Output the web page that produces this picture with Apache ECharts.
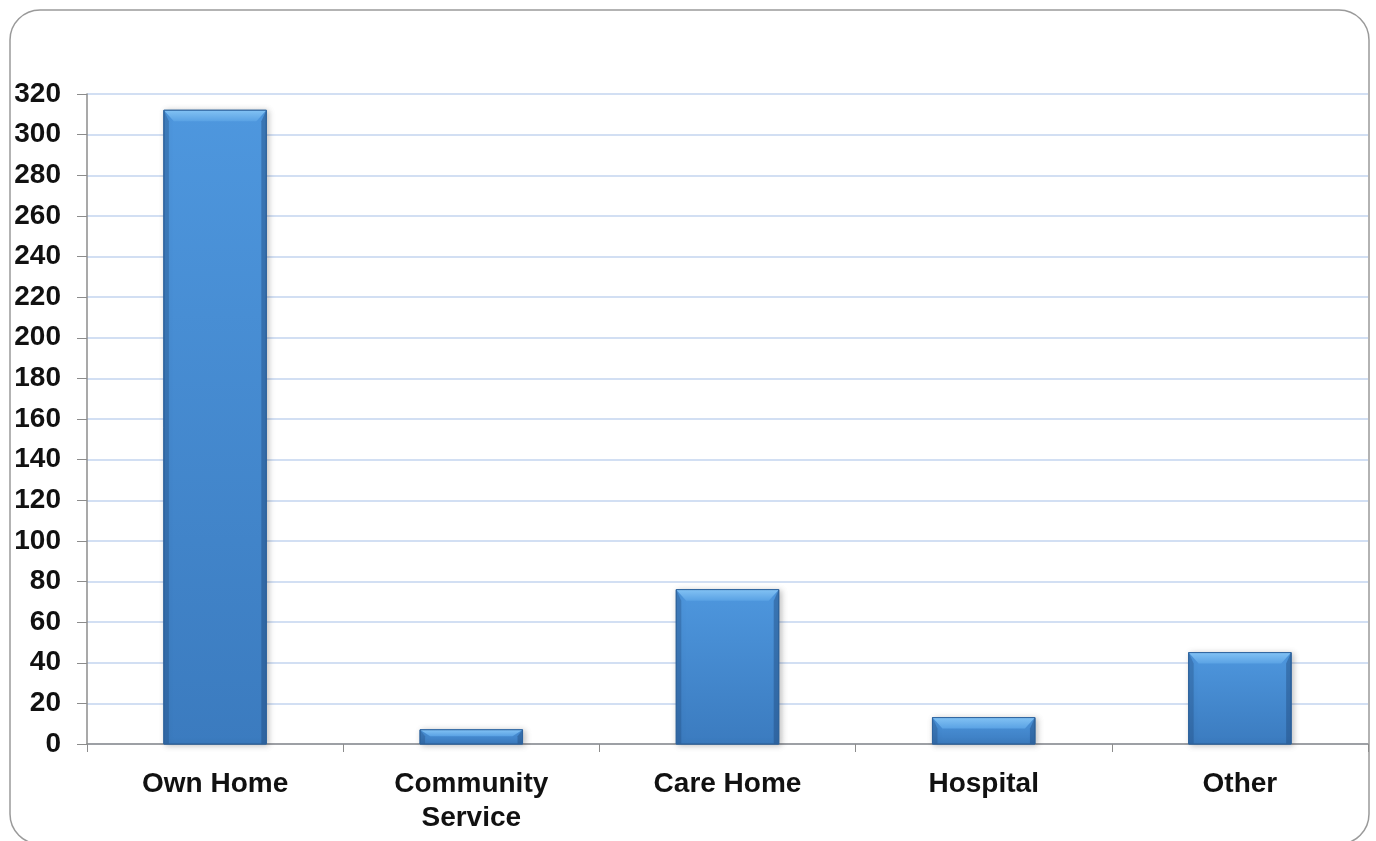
<!DOCTYPE html>
<html>
<head>
<meta charset="utf-8">
<script src="https://cdn.jsdelivr.net/npm/echarts@6/dist/echarts.min.js"></script>
<style>
  html, body { margin: 0; padding: 0; background: #fff; }
  #chart { width: 1376px; height: 841px; }
</style>
</head>
<body>
<div id="chart"></div>
<script>
// Place of care counts
const categories = ['Own Home', 'Community\nService', 'Care Home', 'Hospital', 'Other'];
const counts = [312, 7, 76, 13, 45];
const yTicks = { min: 0, max: 320, step: 20 };

const chart = echarts.init(document.getElementById('chart'));

// Bevelled bar: body gradient, lighter top facet, darker side facets
function renderBevelBar(params, api) {
  const idx = api.value(0);
  const val = api.value(1);
  const top = api.coord([idx, val]);
  const base = api.coord([idx, 0]);
  const bandW = api.size([1, 0])[0];
  const w = bandW * 0.4;
  const x0 = top[0] - w / 2, x1 = top[0] + w / 2;
  const y0 = top[1], y1 = base[1];
  const h = y1 - y0;
  const bt = Math.min(11, h * 0.45);
  const bs = Math.min(5, w * 0.1);
  return {
    type: 'group',
    children: [
      {
        type: 'rect',
        shape: { x: x0, y: y0, width: w, height: h },
        style: {
          fill: new echarts.graphic.LinearGradient(0, 0, 0, 1, [
            { offset: 0, color: '#4e97de' },
            { offset: 1, color: '#3b7bbf' }
          ]),
          stroke: '#2f649e',
          lineWidth: 1,
          shadowBlur: 6,
          shadowColor: 'rgba(0,0,0,0.25)',
          shadowOffsetX: 2,
          shadowOffsetY: 1
        }
      },
      {
        type: 'polygon',
        shape: { points: [[x0, y0], [x1, y0], [x1 - bs * 2, y0 + bt], [x0 + bs * 2, y0 + bt]] },
        style: {
          fill: new echarts.graphic.LinearGradient(0, 0, 0, 1, [
            { offset: 0, color: '#82c2f4' },
            { offset: 1, color: '#5aa2e4' }
          ])
        }
      },
      {
        type: 'polygon',
        shape: { points: [[x0, y0], [x0 + bs, y0 + bt], [x0 + bs, y1], [x0, y1]] },
        style: { fill: 'rgba(30,70,120,0.3)' }
      },
      {
        type: 'polygon',
        shape: { points: [[x1, y0], [x1 - bs, y0 + bt], [x1 - bs, y1], [x1, y1]] },
        style: { fill: 'rgba(30,70,120,0.4)' }
      },
      {
        type: 'rect',
        shape: { x: x0, y: y0, width: w, height: h },
        style: { fill: 'none', stroke: '#2f649e', lineWidth: 1 }
      }
    ]
  };
}

chart.setOption({
  animation: false,
  backgroundColor: '#fff',
  graphic: [{
    type: 'rect',
    shape: { x: 10, y: 10, width: 1359, height: 834, r: 30 },
    style: { fill: 'none', stroke: '#9a9a9a', lineWidth: 1.5 },
    z: 0
  }],
  grid: { left: 87, right: 8, top: 94, bottom: 97 },
  xAxis: {
    type: 'category',
    data: categories,
    boundaryGap: true,
    axisLine: { lineStyle: { color: '#8c8c8c', width: 1.5 } },
    axisTick: { show: true, length: 8, lineStyle: { color: '#8c8c8c' } },
    axisLabel: {
      margin: 23,
      color: '#111',
      fontFamily: 'Liberation Sans, Arial, sans-serif',
      fontWeight: 'bold',
      fontSize: 28,
      lineHeight: 34,
      interval: 0
    },
    splitLine: { show: false }
  },
  yAxis: {
    type: 'value',
    min: yTicks.min,
    max: yTicks.max,
    interval: yTicks.step,
    axisLine: { show: true, lineStyle: { color: '#8c8c8c', width: 1.5 } },
    axisTick: { show: true, length: 10, lineStyle: { color: '#8c8c8c' } },
    axisLabel: {
      margin: 26,
      color: '#111',
      fontFamily: 'Liberation Sans, Arial, sans-serif',
      fontWeight: 'bold',
      fontSize: 28,
      padding: [7, 0, 0, 0]
    },
    splitLine: { show: true, lineStyle: { color: '#c3d4ef', width: 1.5 } }
  },
  series: [{
    type: 'custom',
    data: counts.map((v, i) => [i, v]),
    encode: { x: 0, y: 1 },
    renderItem: renderBevelBar,
    z: 3
  }]
});
</script>
</body>
</html>
